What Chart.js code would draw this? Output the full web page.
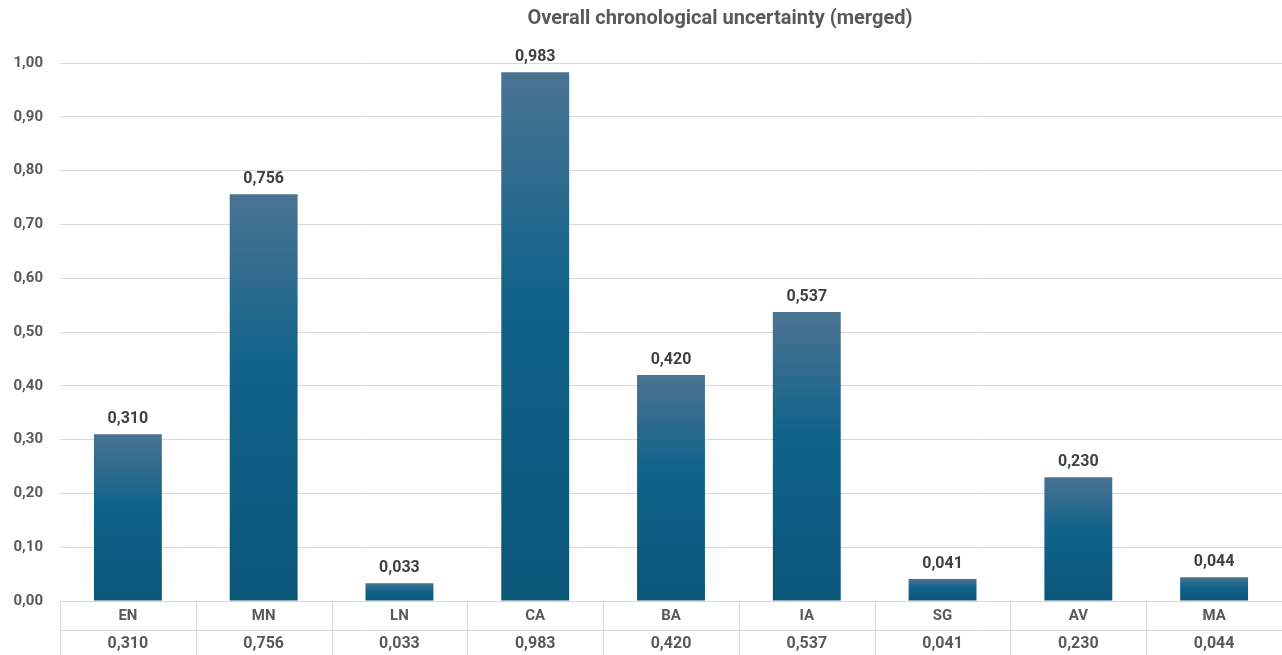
<!DOCTYPE html>
<html>
<head>
<meta charset="utf-8">
<script src="https://cdn.jsdelivr.net/npm/chart.js@4/dist/chart.umd.min.js"></script>
<style>
html,body{margin:0;padding:0;background:#fff;}
#wrap{width:1282px;height:655px;position:relative;}
</style>
</head>
<body>
<div id="wrap"><canvas id="c" width="1282" height="655"></canvas></div>
<script>
const title = 'Overall chronological uncertainty (merged)';
const categories = ['EN','MN','LN','CA','BA','IA','SG','AV','MA'];
const values = [0.310, 0.756, 0.033, 0.983, 0.420, 0.537, 0.041, 0.230, 0.044];
const yTicks = [0,0.1,0.2,0.3,0.4,0.5,0.6,0.7,0.8,0.9,1.0];

const fmt3 = v => v.toFixed(3).replace('.', ',');
const fmt2 = v => v.toFixed(2).replace('.', ',');
const FONT = 'Roboto, "Open Sans", "Liberation Sans", sans-serif';

function barGradient(ctx) {
  const chart = ctx.chart;
  const ca = chart.chartArea;
  if (!ca || ctx.type !== 'data') return '#10628a';
  const y = chart.scales.y;
  const top = y.getPixelForValue(values[ctx.dataIndex]);
  const base = y.getPixelForValue(0);
  if (!isFinite(top) || base - top < 1) return '#10628a';
  const g = chart.ctx.createLinearGradient(0, top, 0, base);
  g.addColorStop(0, '#4b7392');
  g.addColorStop(0.42, '#11638a');
  g.addColorStop(1, '#0b5578');
  return g;
}

const tablePlugin = {
  id: 'tablePlugin',
  afterDraw(chart) {
    const ctx = chart.ctx;
    const ca = chart.chartArea;
    const x = chart.scales.x;
    const y = chart.scales.y;
    const n = categories.length;
    const step = (ca.right - ca.left) / n;
    ctx.save();
    // title
    ctx.fillStyle = '#595959';
    ctx.font = 'bold 20px ' + FONT;
    ctx.textAlign = 'center';
    ctx.textBaseline = 'middle';
    ctx.fillText(title, 720, 19);
    // data labels
    const meta = chart.getDatasetMeta(0);
    ctx.fillStyle = '#404040';
    ctx.font = 'bold 16px ' + FONT;
    ctx.textBaseline = 'bottom';
    meta.data.forEach((bar, i) => {
      ctx.fillText(fmt3(values[i]), bar.x, bar.y - 7);
    });
    // table
    const base = y.getPixelForValue(0);
    const H = chart.height;
    const rowMid = base + 29;
    ctx.strokeStyle = '#d9d9d9';
    ctx.lineWidth = 1;
    ctx.beginPath();
    ctx.moveTo(ca.left, Math.round(base) + 0.5);
    ctx.lineTo(ca.right, Math.round(base) + 0.5);
    ctx.moveTo(ca.left, Math.round(rowMid) + 0.5);
    ctx.lineTo(ca.right, Math.round(rowMid) + 0.5);
    for (let k = 0; k <= n; k++) {
      const xx = Math.round(ca.left + k * step) + 0.5;
      ctx.moveTo(xx, base);
      ctx.lineTo(xx, H);
    }
    ctx.stroke();
    ctx.textBaseline = 'middle';
    ctx.fillStyle = '#595959';
    categories.forEach((c, i) => {
      const cx = x.getPixelForValue(i);
      ctx.font = 'bold 15px ' + FONT;
      ctx.fillText(c, cx, base + 15.5);
      ctx.font = 'bold 16px ' + FONT;
      ctx.fillText(fmt3(values[i]), cx, rowMid + 13.5);
    });
    ctx.restore();
  }
};

new Chart(document.getElementById('c'), {
  type: 'bar',
  data: {
    labels: categories,
    datasets: [{
      data: values,
      backgroundColor: barGradient,
      borderWidth: 0,
      categoryPercentage: 1.0,
      barPercentage: 0.5
    }]
  },
  options: {
    responsive: false,
    animation: false,
    devicePixelRatio: 1,
    layout: { padding: { top: 63, bottom: 54, left: 0, right: 0 } },
    plugins: { legend: { display: false }, tooltip: { enabled: false }, title: { display: false } },
    scales: {
      x: { display: false },
      y: {
        min: 0, max: 1,
        afterFit(scale) { scale.width = 60; },
        afterBuildTicks(scale) { scale.ticks = yTicks.map(v => ({ value: v })); },
        border: { display: false },
        grid: { color: '#d9d9d9', lineWidth: 1, drawTicks: false },
        ticks: {
          padding: 17,
          color: '#595959',
          font: { family: FONT, size: 15, weight: 'bold' },
          callback: v => fmt2(v)
        }
      }
    }
  },
  plugins: [tablePlugin]
});
</script>
</body>
</html>
